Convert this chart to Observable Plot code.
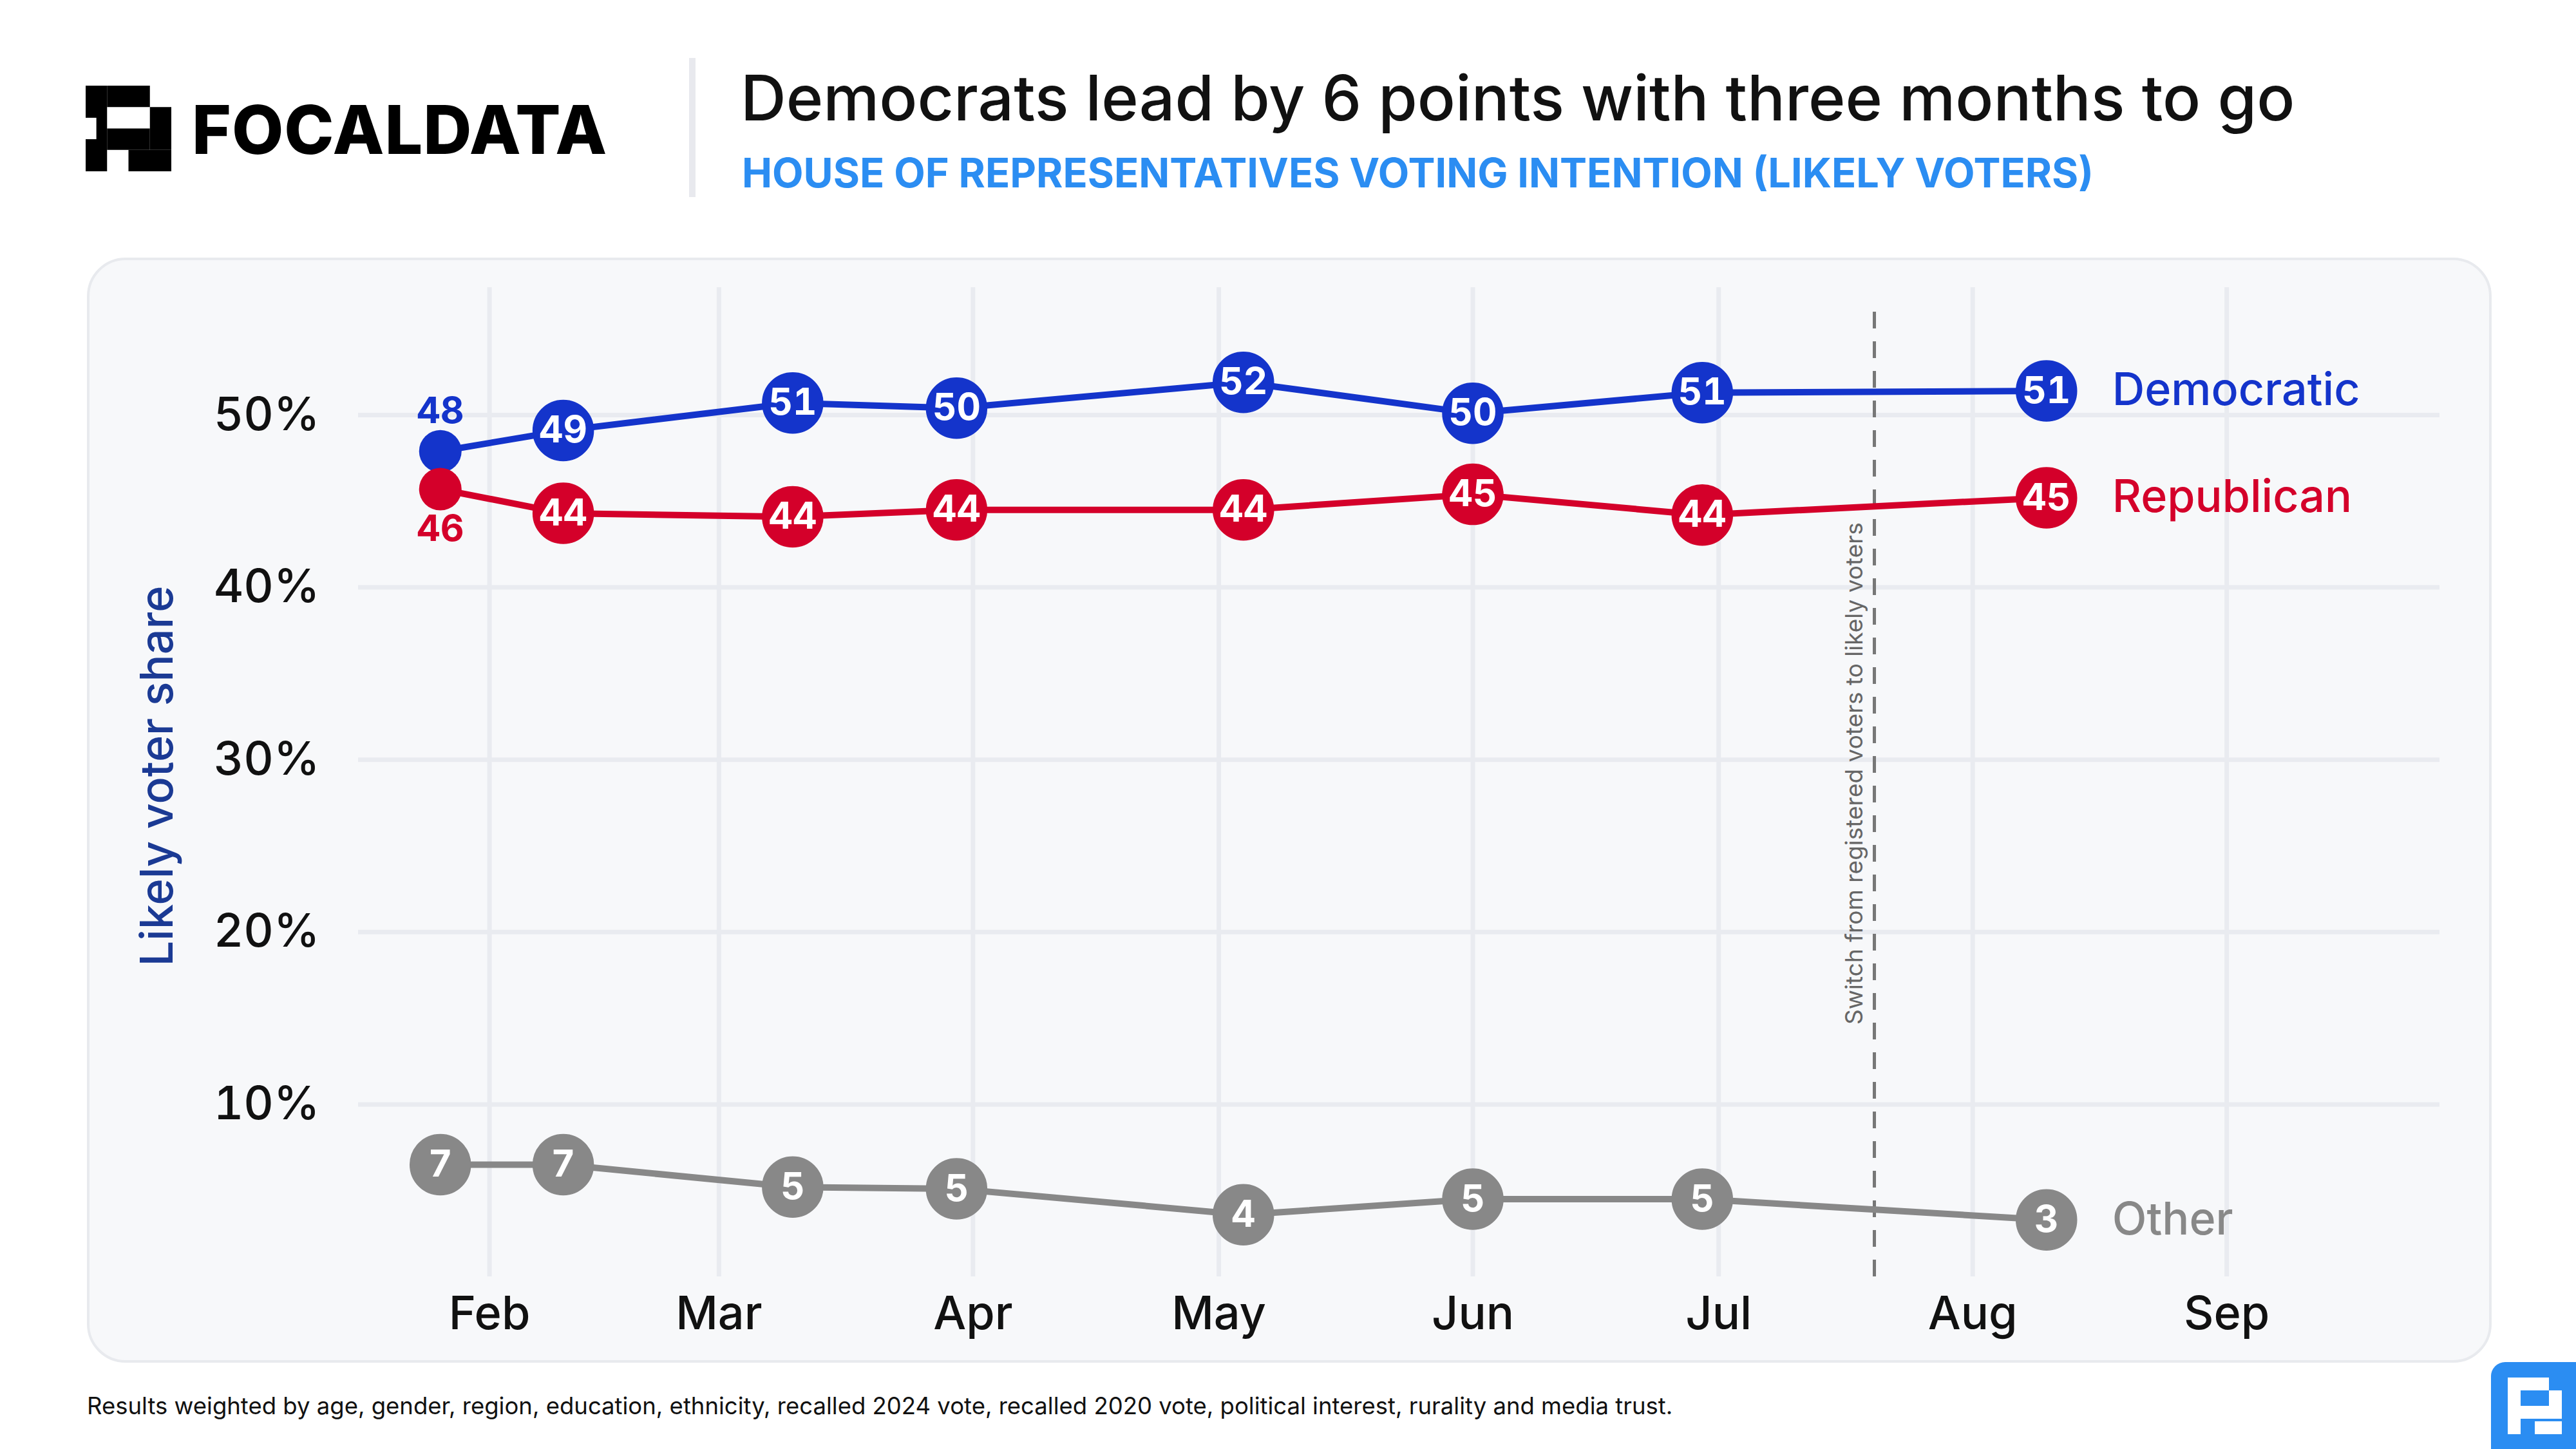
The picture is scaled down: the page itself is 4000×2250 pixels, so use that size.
<!DOCTYPE html>
<html><head><meta charset="utf-8">
<script src="https://cdn.jsdelivr.net/npm/d3@7"></script>
<script src="https://cdn.jsdelivr.net/npm/@observablehq/plot@0.6"></script>
<style>
body{margin:0;width:4000px;height:2250px;background:#fff;font-family:Inter,Lato,sans-serif;position:relative;overflow:hidden}
.abs{position:absolute}
</style></head><body>
<svg class="abs" style="left:133px;top:133px" width="133" height="133" viewBox="0 0 4 4">
<rect x="0" y="0" width="1" height="4" fill="#000"/><rect x="1" y="0" width="2" height="1" fill="#000"/>
<rect x="3" y="1" width="1" height="2" fill="#000"/>
<rect x="1" y="2" width="2" height="1" fill="#000"/><rect x="2" y="3" width="2" height="1" fill="#000"/>
<rect x="0" y="1.5" width="0.5" height="1" fill="#fff"/>
</svg>
<div class="abs" style="left:298px;top:138px;font-size:104px;font-weight:800;letter-spacing:1px;color:#000">FOCALDATA</div>
<div class="abs" style="left:1070px;top:90px;width:10px;height:216px;background:#e8e9ee"></div>
<div class="abs" style="left:1150px;top:92px;font-size:98px;font-weight:500;color:#111">Democrats lead by 6 points with three months to go</div>
<div class="abs" style="left:1152px;top:230px;font-size:63px;font-weight:700;color:#2b8df2">HOUSE OF REPRESENTATIVES VOTING INTENTION (LIKELY VOTERS)</div>
<div class="abs" style="left:135px;top:400px;width:3726px;height:1708px;background:#f7f8fa;border:4px solid #e8eaee;border-radius:60px"></div>
<div class="abs" id="chart" style="left:135px;top:400px"></div>
<div class="abs" style="left:242px;top:1205px;transform:translate(-50%,-50%) rotate(-90deg);font-size:70px;font-weight:500;color:#1b3a94;white-space:nowrap">Likely voter share</div>
<div class="abs" style="left:135px;top:2161px;font-size:36.5px;color:#111">Results weighted by age, gender, region, education, ethnicity, recalled 2024 vote, recalled 2020 vote, political interest, rurality and media trust.</div>
<svg class="abs" style="left:3868px;top:2115px" width="132" height="135" viewBox="0 0 132 135">
<path d="M22 0H132V135H0V22A22 22 0 0 1 22 0Z" fill="#2b8df2"/>
<g fill="#fff"><rect x="26" y="24" width="20" height="88"/><rect x="46" y="24" width="44" height="20"/><rect x="90" y="44" width="20" height="44"/><rect x="46" y="68" width="44" height="20"/><rect x="68" y="92" width="42" height="20"/></g>
</svg>
<script>
const dates = ["2026-01-26","2026-02-10","2026-03-10","2026-03-30","2026-05-04","2026-06-01","2026-06-29","2026-08-10"];
const dem = [47.9,49.1,50.7,50.4,51.9,50.1,51.3,51.4];
const demLbl = [48,49,51,50,52,50,51,51];
const rep = [45.7,44.3,44.1,44.5,44.5,45.4,44.2,45.2];
const repLbl = [46,44,44,44,44,45,44,45];
const oth = [6.5,6.5,5.2,5.1,3.6,4.5,4.5,3.3];
const othLbl = [7,7,5,5,4,5,5,3];
const seriesNames = ["Democratic","Republican","Other"];
const colors = ["#1434cb","#d4002a","#888888"];
const yTicks = [10,20,30,40,50];
const monthTicks = ["2026-02-01","2026-03-01","2026-04-01","2026-05-01","2026-06-01","2026-07-01","2026-08-01","2026-09-01"];
const switchDate = "2026-07-20";
const switchText = "Switch from registered voters to likely voters";

const P = d => new Date(d+"T00:00:00");
const vals=[dem,rep,oth], lbls=[demLbl,repLbl,othLbl];
const rows=[];
vals.forEach((v,s)=>v.forEach((y,i)=>rows.push({s:seriesNames[s],c:colors[s],date:P(dates[i]),y,l:lbls[s][i],i})));
const xd=[P("2026-01-16"),P("2026-09-27")];
const months=monthTicks.map(P);
const inCircle=rows.filter(r=>!(r.i===0&&r.s!=="Other"));
const first=rows.filter(r=>r.i===0&&r.s!=="Other");
const firstDem=first.filter(r=>r.s==="Democratic"), firstRep=first.filter(r=>r.s==="Republican");
const last=rows.filter(r=>r.i===dates.length-1);
const grid="#e9ebf0";
const chart=Plot.plot({
  width:3730,height:1712,marginLeft:421,marginRight:77,marginTop:46,marginBottom:130,
  style:{fontFamily:"Inter,Lato,sans-serif",background:"transparent"},
  x:{type:"time",domain:xd},
  y:{domain:[0,57.4]},
  marks:[
    Plot.ruleY(yTicks,{x1:xd[0],x2:xd[1],y:d=>d,stroke:grid,strokeWidth:7}),
    Plot.ruleX(months,{x:d=>d,y1:0,y2:57.4,stroke:grid,strokeWidth:7}),
    Plot.ruleX([P(switchDate)],{y1:0,y2:56.6,stroke:"#777",strokeWidth:5,strokeDasharray:"26,20"}),
    Plot.text([switchText],{x:P(switchDate),y:29.2,text:d=>d,rotate:-90,dx:-30,fontSize:37,letterSpacing:1,fill:"#666"}),
    Plot.line(rows,{x:"date",y:"y",z:"s",stroke:"c",strokeWidth:10}),
    Plot.dot(inCircle,{x:"date",y:"y",r:47,fill:"c",stroke:"c"}),
    Plot.dot(first,{x:"date",y:"y",r:33,fill:"c"}),
    Plot.text(inCircle,{x:"date",y:"y",text:"l",fill:"white",fontSize:58,fontWeight:700}),
    Plot.text(firstDem,{x:"date",y:"y",text:"l",fill:"c",fontSize:57,fontWeight:700,dy:-62}),
    Plot.text(firstRep,{x:"date",y:"y",text:"l",fill:"c",fontSize:57,fontWeight:700,dy:62}),
    Plot.text(last,{x:"date",y:"y",text:"s",fill:"c",fontSize:70,fontWeight:500,textAnchor:"start",dx:102}),
    Plot.axisY(yTicks,{tickFormat:d=>d+"%",tickSize:0,tickPadding:60,fontSize:72,fontWeight:500,fill:"#111",label:null}),
    Plot.axisX(months,{tickFormat:d3.timeFormat("%b"),tickSize:0,tickPadding:30,fontSize:72,fontWeight:500,fill:"#111",label:null})
  ]
});
document.getElementById("chart").appendChild(chart);
</script>
</body></html>
